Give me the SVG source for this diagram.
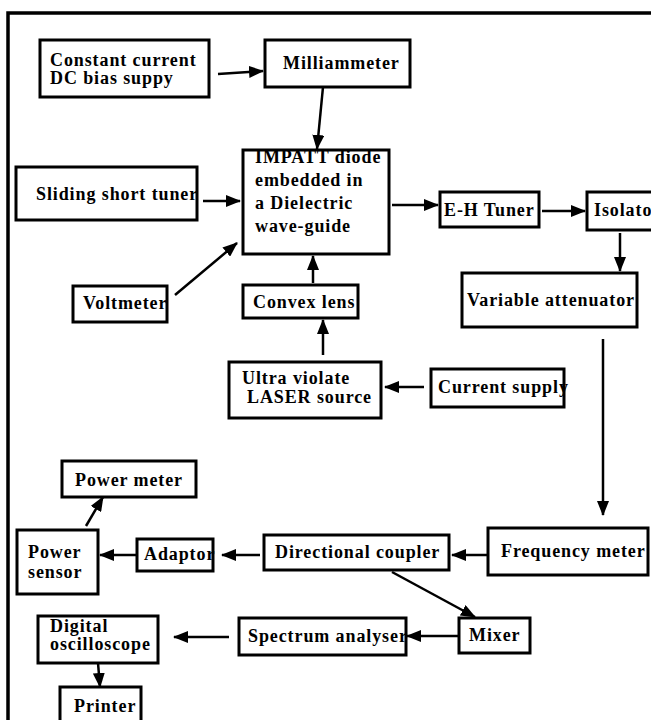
<svg xmlns="http://www.w3.org/2000/svg" width="651" height="720" viewBox="0 0 651 720">
<style>
.t{font-family:"Liberation Serif","Times New Roman",serif;font-weight:bold;font-size:18px;letter-spacing:0.9px;fill:#000}
.b{fill:none;stroke:#000;stroke-width:3}
.c{stroke:#000;stroke-width:2.5;fill:none}
.f{stroke:#000;stroke-width:3.5;fill:none}
</style>
<defs>
<marker id="ah" markerUnits="userSpaceOnUse" markerWidth="15" markerHeight="12" refX="14" refY="6" orient="auto">
<path d="M0,0 L15,6 L0,12 z" fill="#000"/>
</marker>
</defs>
<rect width="651" height="720" fill="#fff"/>
<path class="f" d="M8,720 V13 H651"/>
<g id="constant"><text class="t" x="50" y="66">Constant current</text><text class="t" x="50" y="84">DC bias suppy</text><rect class="b" x="40" y="40" width="169" height="57"/></g>
<g id="milliammeter"><text class="t" x="283" y="69">Milliammeter</text><rect class="b" x="265" y="40" width="145" height="47"/></g>
<g id="impatt"><text class="t" x="255" y="163">IMPATT diode</text><text class="t" x="255" y="186">embedded in</text><text class="t" x="255" y="209">a Dielectric</text><text class="t" x="255" y="232">wave-guide</text><rect class="b" x="243" y="150" width="146" height="104"/></g>
<g id="sliding"><text class="t" x="36" y="200">Sliding short tuner</text><rect class="b" x="16" y="167" width="181" height="53"/></g>
<g id="voltmeter"><text class="t" x="83" y="309">Voltmeter</text><rect class="b" x="73" y="286" width="94" height="36"/></g>
<g id="convex"><text class="t" x="253" y="308">Convex lens</text><rect class="b" x="243" y="285" width="115" height="33"/></g>
<g id="ultra"><text class="t" x="242" y="384">Ultra violate</text><text class="t" x="247" y="403">LASER source</text><rect class="b" x="229" y="362" width="152" height="56"/></g>
<g id="current"><text class="t" x="438" y="393">Current supply</text><rect class="b" x="431" y="369" width="133" height="38"/></g>
<g id="ehtuner"><text class="t" x="444" y="216">E-H Tuner</text><rect class="b" x="440" y="192" width="99" height="35"/></g>
<g id="isolator"><text class="t" x="594" y="216">Isolator</text><rect class="b" x="587" y="192" width="80" height="38"/></g>
<g id="variable"><text class="t" x="467" y="306">Variable attenuator</text><rect class="b" x="462" y="273" width="175" height="54"/></g>
<g id="frequency"><text class="t" x="501" y="557">Frequency meter</text><rect class="b" x="488" y="528" width="160" height="47"/></g>
<g id="directional"><text class="t" x="275" y="558">Directional coupler</text><rect class="b" x="264" y="535" width="185" height="35"/></g>
<g id="adaptor"><text class="t" x="144" y="560">Adaptor</text><rect class="b" x="137" y="539" width="76" height="32"/></g>
<g id="powersensor"><text class="t" x="28" y="558">Power</text><text class="t" x="28" y="578">sensor</text><rect class="b" x="17" y="530" width="81" height="64"/></g>
<g id="powermeter"><text class="t" x="75" y="486">Power meter</text><rect class="b" x="62" y="461" width="134" height="36"/></g>
<g id="mixer"><text class="t" x="469" y="641">Mixer</text><rect class="b" x="459" y="618" width="71" height="35"/></g>
<g id="spectrum"><text class="t" x="248" y="642">Spectrum analyser</text><rect class="b" x="239" y="618" width="167" height="37"/></g>
<g id="digital"><text class="t" x="50" y="632">Digital</text><text class="t" x="50" y="650">oscilloscope</text><rect class="b" x="38" y="616" width="120" height="47"/></g>
<g id="printer"><text class="t" x="74" y="712">Printer</text><rect class="b" x="60" y="687" width="81" height="45"/></g>
<g id="connectors">
<line class="c" x1="218" y1="74" x2="263" y2="71" marker-end="url(#ah)"/>
<line class="c" x1="323" y1="87" x2="317" y2="149" marker-end="url(#ah)"/>
<line class="c" x1="203" y1="201" x2="240" y2="201" marker-end="url(#ah)"/>
<line class="c" x1="175" y1="295" x2="237" y2="243" marker-end="url(#ah)"/>
<line class="c" x1="313" y1="283" x2="313" y2="256" marker-end="url(#ah)"/>
<line class="c" x1="323" y1="355" x2="323" y2="320" marker-end="url(#ah)"/>
<line class="c" x1="424" y1="387" x2="385" y2="387" marker-end="url(#ah)"/>
<line class="c" x1="392" y1="205" x2="438" y2="205" marker-end="url(#ah)"/>
<line class="c" x1="542" y1="211" x2="585" y2="211" marker-end="url(#ah)"/>
<line class="c" x1="620" y1="233" x2="620" y2="271" marker-end="url(#ah)"/>
<line class="c" x1="603" y1="339" x2="603" y2="515" marker-end="url(#ah)"/>
<line class="c" x1="488" y1="555" x2="452" y2="555" marker-end="url(#ah)"/>
<line class="c" x1="260" y1="555" x2="222" y2="555" marker-end="url(#ah)"/>
<line class="c" x1="137" y1="555" x2="100" y2="555" marker-end="url(#ah)"/>
<line class="c" x1="86" y1="526" x2="103" y2="497" marker-end="url(#ah)"/>
<line class="c" x1="392" y1="572" x2="475" y2="617" marker-end="url(#ah)"/>
<line class="c" x1="458" y1="636" x2="407" y2="636" marker-end="url(#ah)"/>
<line class="c" x1="229" y1="637" x2="174" y2="637" marker-end="url(#ah)"/>
<line class="c" x1="98" y1="663" x2="100" y2="687" marker-end="url(#ah)"/>
</g>
</svg>
